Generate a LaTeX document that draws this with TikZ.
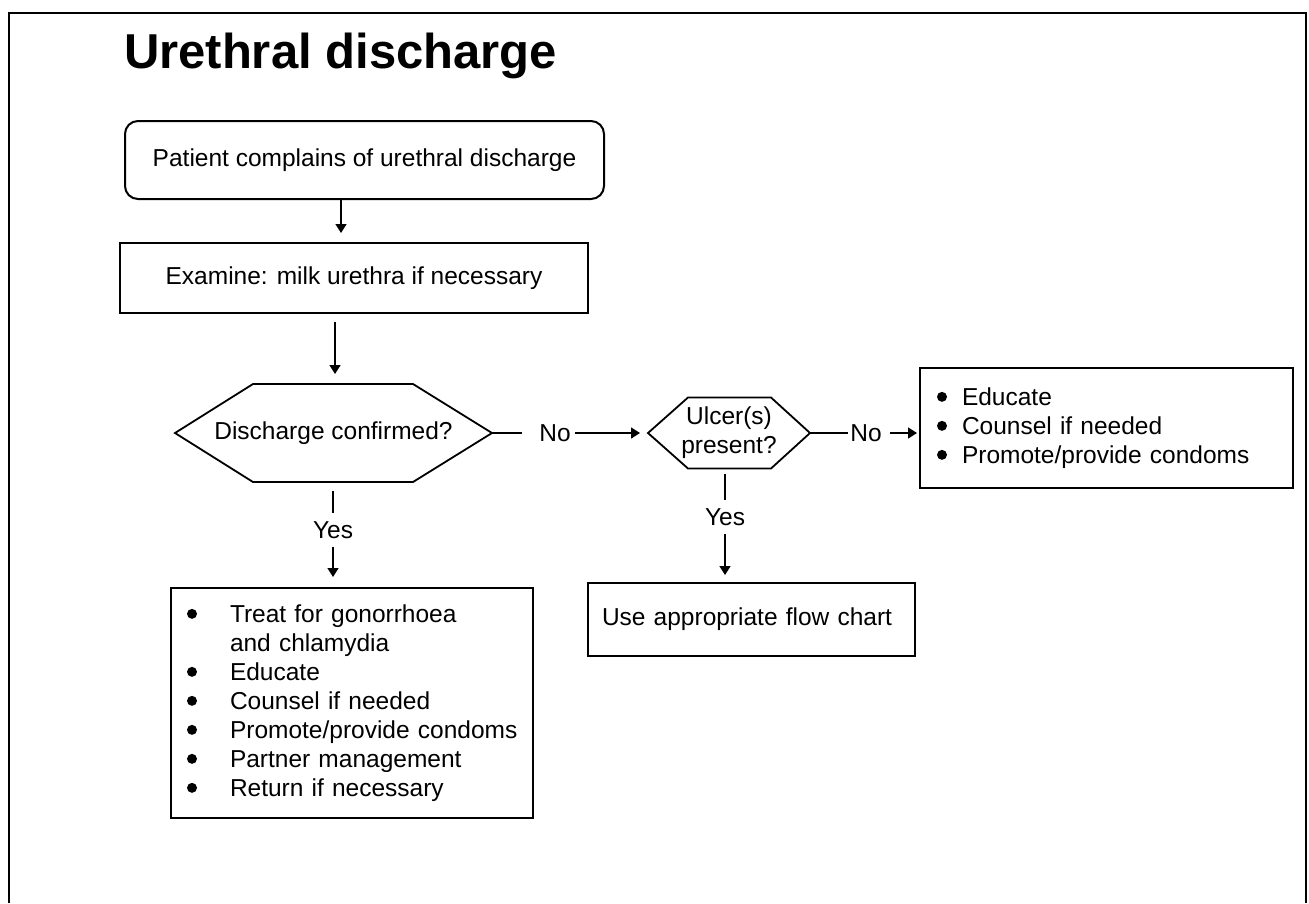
\documentclass[tikz,border=0pt]{standalone}
\usepackage{fontspec}
\setmainfont{Liberation Sans}
\usetikzlibrary{arrows.meta}
% round list bullet, raised to the middle of the capitals
\newcommand\blt{\raisebox{3.5pt}{\tikz\fill (0,0) circle (5pt);}}
\newcommand\lb{\makebox[43pt][l]{\blt}}
\newcommand\rb{\makebox[25pt][l]{\blt}}
\begin{document}
\begin{tikzpicture}[x=1pt,y=-1pt,
  every node/.style={outer sep=0pt, font=\fontsize{24.5}{29}\selectfont},
  box/.style={draw, line width=2pt, inner sep=0pt},
  hexnode/.style={inner sep=0pt, align=center},
  hexline/.style={line width=1.8pt, line join=miter},
  conn/.style={line width=1.5pt},
  arr/.style={conn, -{Triangle[length=9pt,width=11pt]}},
  lbl/.style={inner sep=0pt},
]
\useasboundingbox (0,0) rectangle (1309,903);

% page frame, open at the bottom
\draw[line width=2.5pt] (9,903) -- (9,13) -- (1306,13) -- (1306,903);

% heading
\node[anchor=base west, inner sep=0pt, font=\bfseries\fontsize{49}{58}\selectfont]
  (title) at (124,68) {Urethral discharge};

% start and examination steps
\node[box, rounded corners=13pt, minimum width=479, minimum height=78]
  (start) at (364.5,160) {Patient complains of urethral discharge};
\node[box, minimum width=468, minimum height=70]
  (exam) at (354,278) {Examine: milk urethra if necessary};

% decision: discharge confirmed?
\node[hexnode, minimum width=317, minimum height=98]
  (d1) at (333.5,433) {Discharge confirmed?};
\draw[hexline] (d1.west) -- ([xshift=78pt]d1.north west) -- ([xshift=-79pt]d1.north east)
  -- (d1.east) -- ([xshift=-79pt]d1.south east) -- ([xshift=78pt]d1.south west) -- cycle;

% decision: ulcers present?
\node[hexnode, minimum width=162, minimum height=71]
  (d2) at (729,433) {Ulcer(s)\\present?};
\draw[hexline] (d2.west) -- ([xshift=40pt]d2.north west) -- ([xshift=-39pt]d2.north east)
  -- (d2.east) -- ([xshift=-39pt]d2.south east) -- ([xshift=40pt]d2.south west) -- cycle;

% outcome boxes
\node[box, minimum width=373, minimum height=120, text width=339, inner xsep=17pt, align=left]
  (rbox) at (1106.5,428)
  {\mbox{\rb Educate}\\ \mbox{\rb Counsel if needed}\\ \mbox{\rb Promote/provide condoms}};
\node[box, minimum width=327, minimum height=73, text width=299, inner xsep=14pt, align=left]
  (ubox) at (751.5,619.5) {\mbox{Use appropriate flow chart}};
\node[box, anchor=north west, minimum width=362, minimum height=230, text width=330,
  inner xsep=16pt, align=left]
  (lbox) at (171,588)
  {\mbox{\lb Treat for gonorrhoea}\\ \mbox{\hspace*{43pt}and chlamydia}\\ \mbox{\lb Educate}\\
   \mbox{\lb Counsel if needed}\\ \mbox{\lb Promote/provide condoms}\\
   \mbox{\lb Partner management}\\ \mbox{\lb Return if necessary}};

% connectors down the main column
\coordinate (a1) at (341,0);
\coordinate (a2) at (335,0);
\draw[arr, shorten >=10pt] (start.south -| a1) -- (exam.north -| a1);
\draw[arr, shorten <=9pt, shorten >=10pt] (exam.south -| a2) -- (d1.north -| a2);

% "No" branches
\node[lbl] (no1) at (555,433) {No};
\draw[conn] (d1.east) -- ([xshift=-17pt]no1.west);
\draw[arr, shorten >=8pt] ([xshift=4pt]no1.east) -- (d2.west);

\node[lbl] (no2) at (866,433) {No};
\draw[conn] (d2.east) -- ([xshift=-2pt]no2.west);
\draw[arr, shorten >=3pt] ([xshift=8pt]no2.east) -- (rbox.west |- no2);

% "Yes" branches
\node[inner sep=8pt] (yes1) at (333,530) {Yes};
\draw[conn, shorten <=9pt] (d1.south -| yes1) -- (yes1.north);
\draw[arr, shorten >=11pt] (yes1.south) -- (lbox.north -| yes1);

\node[inner sep=8pt] (yes2) at (725,517) {Yes};
\draw[conn, shorten <=5pt] (d2.south -| yes2) -- (yes2.north);
\draw[arr, shorten >=8pt] (yes2.south) -- (ubox.north -| yes2);
\end{tikzpicture}
\end{document}
